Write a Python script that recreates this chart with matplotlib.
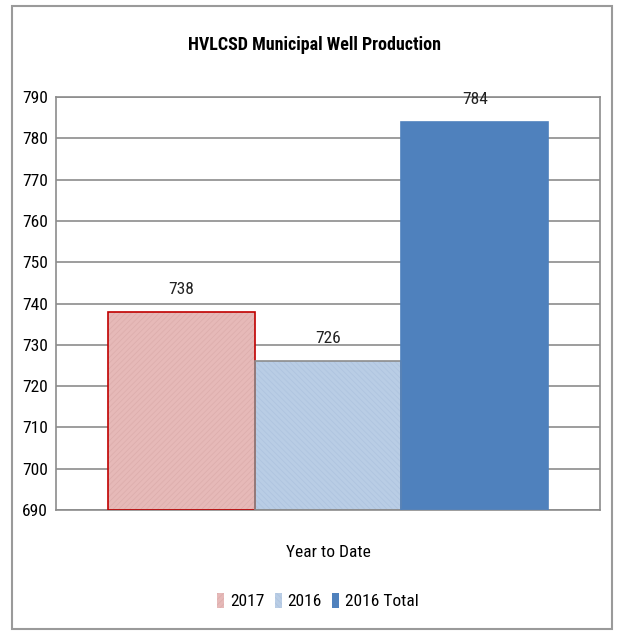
import matplotlib.pyplot as plt
from matplotlib.patches import Rectangle

categories = ["Year to Date"]
series = ["2017", "2016", "2016 Total"]
values = [738, 726, 784]
face_colors = ["#E6B9B8", "#B9CDE5", "#4F81BD"]
hatch_colors = ["#DDAEAD", "#AFC4DF", None]
edge_colors = ["#C00000", "#8C8C8C", "#4F81BD"]
y_ticks = list(range(690, 791, 10))

plt.rcParams["font.family"] = ["Roboto Condensed", "Roboto", "DejaVu Sans"]
plt.rcParams["hatch.linewidth"] = 0.6

fig = plt.figure(figsize=(6.21, 6.35), dpi=100)
fig.patches.append(Rectangle((12 / 621, 0.01), 600 / 621, 0.98, transform=fig.transFigure,
                             fill=False, edgecolor="#9A9A9A", linewidth=1.5))
ax = fig.add_axes([56 / 621, 1 - 510 / 635, 544 / 621, 413 / 635])

bar_w = 0.27
offsets = [-bar_w, 0, bar_w]
for i, (name, val) in enumerate(zip(series, values)):
    x = offsets[i]
    hatch = None if hatch_colors[i] is None else ("//////" if i == 0 else "\\\\\\\\\\\\")
    ax.bar(x, val - 690, bottom=690, width=bar_w, color=face_colors[i],
           edgecolor=hatch_colors[i] or face_colors[i], hatch=hatch, linewidth=0,
           zorder=2, label=name)
    ax.bar(x, val - 690, bottom=690, width=bar_w, fill=False,
           edgecolor=edge_colors[i], linewidth=1.2, zorder=3)
    ax.text(x, val + 3.6, str(val), ha="center", va="bottom", fontsize=12.5, color="#222222")

ax.set_xlim(-0.5, 0.5)
ax.set_ylim(690, 790)
ax.set_yticks(y_ticks)
ax.set_yticklabels([str(t) for t in y_ticks], fontsize=12.5)
ax.set_xticks([])
ax.set_xlabel(categories[0], fontsize=12.5, labelpad=25)
ax.yaxis.grid(True, color="#8C8C8C", linewidth=1.2, zorder=0)
ax.set_axisbelow(True)
ax.tick_params(axis="y", length=0, pad=6)
for s in ax.spines.values():
    s.set_color("#8C8C8C")
    s.set_linewidth(1.2)

fig.text(315 / 621, 1 - 45 / 635, "HVLCSD Municipal Well Production", ha="center", va="center",
         fontsize=13, fontweight="bold")

handles, labels = ax.get_legend_handles_labels()
fig.legend(handles, labels, loc="center", bbox_to_anchor=(318 / 621, 1 - 601 / 635), ncol=3,
           frameon=False, fontsize=12.5, handlelength=0.4, handleheight=1.0, handletextpad=0.35,
           columnspacing=0.6)

fig.savefig("out.png", dpi=100)
